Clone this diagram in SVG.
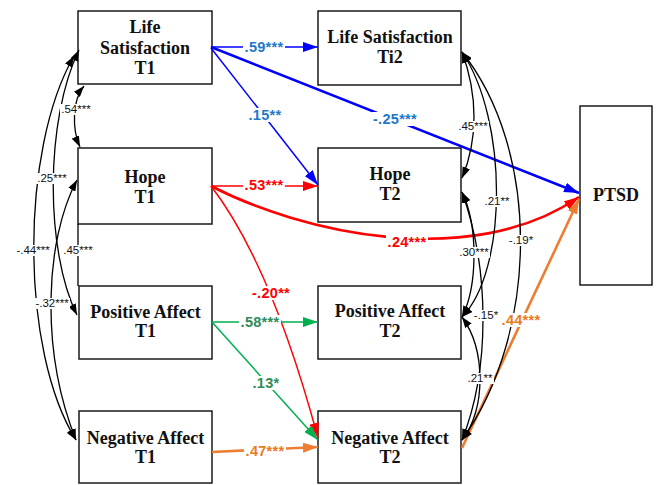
<svg xmlns="http://www.w3.org/2000/svg" width="657" height="485" viewBox="0 0 657 485">
<style>
.box{fill:#fff;stroke:#1a1a1a;stroke-width:1.5}
.nt{font-family:"Liberation Serif","Times New Roman",serif;font-weight:bold;font-size:18px;text-anchor:middle;fill:#111}
.cl{fill:none;stroke:#000;stroke-width:1.3;marker-start:url(#ak);marker-end:url(#ak)}
.ln{fill:none;stroke:#000;stroke-width:1.3}
.bl{fill:none;stroke:#0000FF;marker-end:url(#mb)}
.rd{fill:none;stroke:#FF0000;marker-end:url(#mr)}
.gr{fill:none;stroke:#00B050;marker-end:url(#mg)}
.or{fill:none;stroke:#ED7D31;marker-end:url(#mo)}
.th{stroke-width:1.5}
.tk{stroke-width:2.6}
.bg{fill:#fff}
.lb{font-family:"Liberation Sans",Arial,sans-serif;font-size:11.5px;text-anchor:middle;fill:#111}
.clb{font-family:"Liberation Sans",Arial,sans-serif;font-size:14.5px;font-weight:bold;letter-spacing:0.3px;text-anchor:middle}
.cb{fill:#1F78C8}.cr{fill:#FF0000}.cg{fill:#2E8B57}.co{fill:#E97A22}
</style>
<defs>
<marker id="ak" viewBox="0 0 11 8" markerUnits="userSpaceOnUse" markerWidth="11" markerHeight="8" refX="11" refY="4" orient="auto-start-reverse"><path d="M0,0 L11,4 L0,8 z" fill="#000"/></marker>
<marker id="mb" viewBox="0 0 15 10" markerUnits="userSpaceOnUse" markerWidth="15" markerHeight="10" refX="15" refY="5" orient="auto"><path d="M0,0 L15,5 L0,10 z" fill="#0000FF"/></marker>
<marker id="mr" viewBox="0 0 15 10" markerUnits="userSpaceOnUse" markerWidth="15" markerHeight="10" refX="15" refY="5" orient="auto"><path d="M0,0 L15,5 L0,10 z" fill="#FF0000"/></marker>
<marker id="mg" viewBox="0 0 15 10" markerUnits="userSpaceOnUse" markerWidth="15" markerHeight="10" refX="15" refY="5" orient="auto"><path d="M0,0 L15,5 L0,10 z" fill="#00B050"/></marker>
<marker id="mo" viewBox="0 0 15 10" markerUnits="userSpaceOnUse" markerWidth="15" markerHeight="10" refX="15" refY="5" orient="auto"><path d="M0,0 L15,5 L0,10 z" fill="#ED7D31"/></marker>
</defs>
<rect width="657" height="485" fill="#fff"/>

<g id="nodes">
<g id="ls1"><rect class="box" x="78" y="11" width="134" height="73"/><text class="nt" x="145" y="33">Life</text><text class="nt" x="145" y="54">Satisfaction</text><text class="nt" x="145" y="74">T1</text></g>
<g id="hope1"><rect class="box" x="78" y="148" width="134" height="76"/><text class="nt" x="145" y="183">Hope</text><text class="nt" x="145" y="203">T1</text></g>
<g id="pa1"><rect class="box" x="79" y="286" width="133" height="73"/><text class="nt" x="145.5" y="318">Positive Affect</text><text class="nt" x="145.5" y="337">T1</text></g>
<g id="na1"><rect class="box" x="79" y="411" width="133" height="72"/><text class="nt" x="145.5" y="444">Negative Affect</text><text class="nt" x="145.5" y="463">T1</text></g>
<g id="ls2"><rect class="box" x="318" y="11" width="143" height="74"/><text class="nt" x="390" y="43">Life Satisfaction</text><text class="nt" x="390" y="63">Ti2</text></g>
<g id="hope2"><rect class="box" x="318" y="148" width="143" height="74"/><text class="nt" x="390" y="180">Hope</text><text class="nt" x="390" y="200">T2</text></g>
<g id="pa2"><rect class="box" x="318" y="286" width="143" height="73"/><text class="nt" x="390" y="317">Positive Affect</text><text class="nt" x="390" y="337">T2</text></g>
<g id="na2"><rect class="box" x="318" y="411" width="143" height="72"/><text class="nt" x="390" y="444">Negative Affect</text><text class="nt" x="390" y="463">T2</text></g>
<g id="ptsd"><rect class="box" x="580" y="106" width="72" height="179"/><text class="nt" x="616" y="201">PTSD</text></g>
</g>

<g id="connectors">
<path class="bl th" d="M211,47 L318,47"/>
<path class="bl th" d="M211,48 L318,185"/>
<path class="bl tk" d="M211,47 L579,193"/>
<path class="rd th" d="M211,186 L318,186"/>
<path class="rd tk" d="M211,186 C300,232 470,272 579,197"/>
<path class="rd th" d="M211,186 Q271,264 318,438"/>
<path class="gr th" d="M212,322 L318,322"/>
<path class="gr th" d="M212,322 L318,440"/>
<path class="or tk" d="M212,452 L318,447"/>
<path class="or tk" d="M462,448 L579,199"/>

<path class="cl" d="M84,86 C72,100 72,130 80,147"/>
<path class="cl" d="M79,50 C45,120 45,250 77,315"/>
<path class="cl" d="M74,56 C20,150 20,350 76,440"/>
<path class="cl" d="M77,180 C45,240 40,350 76,440"/>
<path class="ln" d="M78,224 L78,286"/>

<path class="cl" d="M462,52 C478,95 478,140 462,178"/>
<path class="cl" d="M462,52 C508,120 508,270 462,317"/>
<path class="cl" d="M462,52 C540,150 540,330 462,440"/>
<path class="cl" d="M462,192 C478,225 478,285 462,317"/>
<path class="cl" d="M462,192 C490,270 490,370 462,440"/>
<path class="cl" d="M462,317 C486,350 486,410 462,440"/>
</g>

<g id="labels">
<rect class="bg" x="60" y="104" width="32" height="11"/><text class="lb" x="76" y="113">.54***</text>
<rect class="bg" x="36" y="173" width="32" height="11"/><text class="lb" x="52" y="182">.25***</text>
<rect class="bg" x="15" y="245" width="36" height="11"/><text class="lb" x="33" y="254">-.44***</text>
<rect class="bg" x="62" y="245" width="32" height="11"/><text class="lb" x="78" y="254">.45***</text>
<rect class="bg" x="34" y="298" width="36" height="11"/><text class="lb" x="52" y="307">-.32***</text>
<rect class="bg" x="457" y="121" width="32" height="11"/><text class="lb" x="473" y="130">.45***</text>
<rect class="bg" x="483" y="196" width="28" height="11"/><text class="lb" x="497" y="205">.21**</text>
<rect class="bg" x="507" y="235" width="28" height="11"/><text class="lb" x="521" y="244">-.19*</text>
<rect class="bg" x="458" y="247" width="32" height="11"/><text class="lb" x="474" y="256">.30***</text>
<rect class="bg" x="472" y="310" width="28" height="11"/><text class="lb" x="486" y="319">-.15*</text>
<rect class="bg" x="466" y="373" width="28" height="11"/><text class="lb" x="480" y="382">.21**</text>

<rect class="bg" x="243" y="40" width="42" height="14"/><text class="clb cb" x="264" y="52">.59***</text>
<rect class="bg" x="247" y="108" width="36" height="14"/><text class="clb cb" x="265" y="120">.15**</text>
<rect class="bg" x="372" y="112" width="46" height="14"/><text class="clb cb" x="395" y="124">-.25***</text>
<rect class="bg" x="243" y="178" width="42" height="14"/><text class="clb cr" x="264" y="190">.53***</text>
<rect class="bg" x="386" y="235" width="42" height="14"/><text class="clb cr" x="407" y="247">.24***</text>
<rect class="bg" x="251" y="286" width="41" height="14"/><text class="clb cr" x="271" y="298">-.20**</text>
<rect class="bg" x="239" y="315" width="42" height="14"/><text class="clb cg" x="260" y="327">.58***</text>
<rect class="bg" x="251" y="376" width="31" height="14"/><text class="clb cg" x="266" y="388">.13*</text>
<rect class="bg" x="244" y="444" width="42" height="14"/><text class="clb co" x="265" y="456">.47***</text>
<rect class="bg" x="500" y="313" width="42" height="14"/><text class="clb co" x="521" y="325">.44***</text>
</g>
</svg>
